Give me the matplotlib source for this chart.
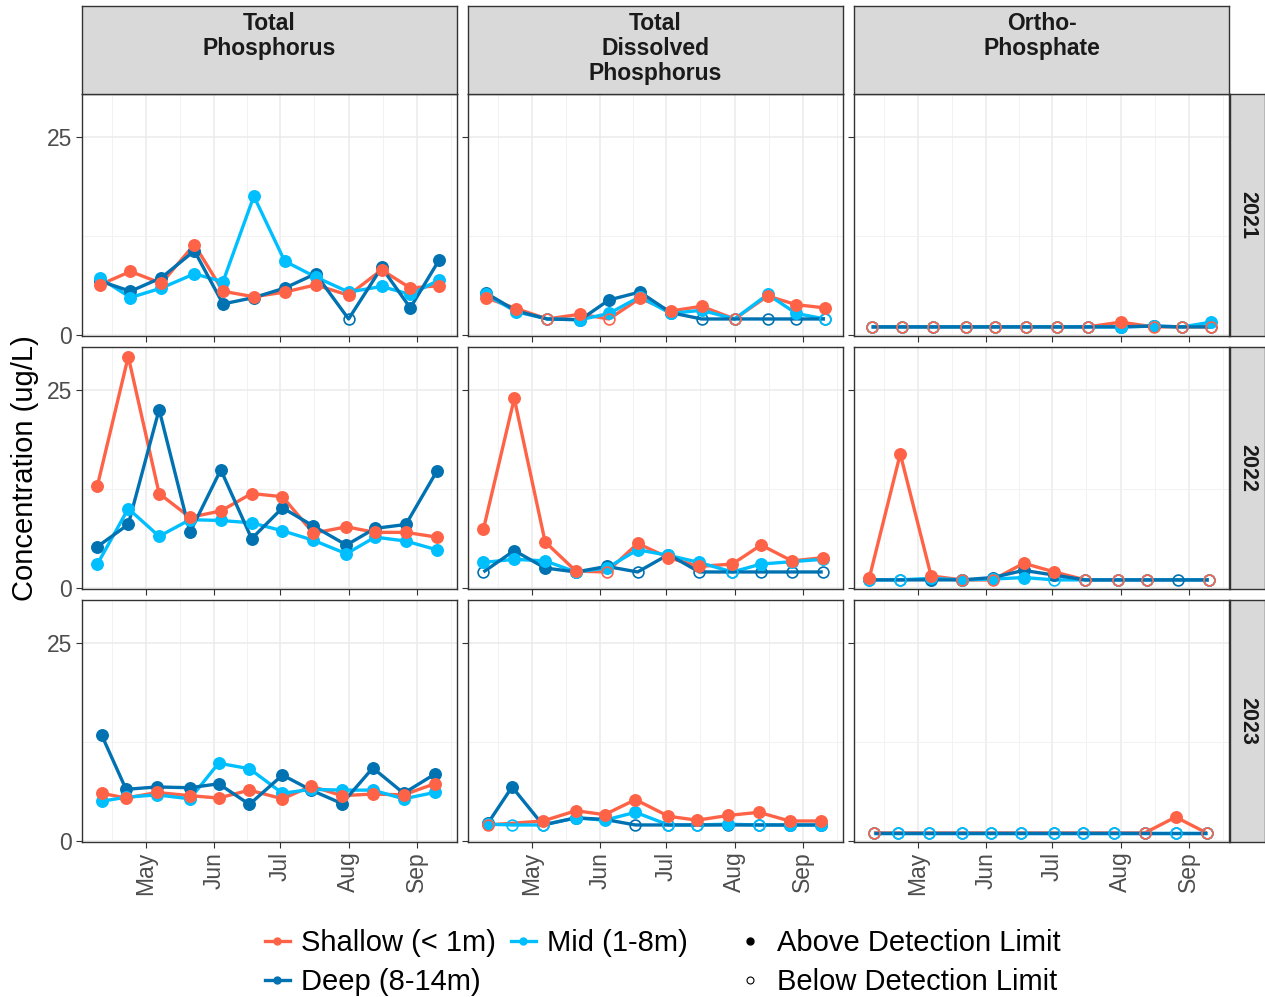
import matplotlib
matplotlib.use('Agg')
import matplotlib.pyplot as plt
from matplotlib.lines import Line2D

plt.rcParams['font.family'] = ['Liberation Sans', 'DejaVu Sans']

# facet labels, depth groups
params = ['Total\nPhosphorus', 'Total\nDissolved\nPhosphorus', 'Ortho-\nPhosphate']
years = ['2021', '2022', '2023']
depths = ['Shallow (< 1m)', 'Mid (1-8m)', 'Deep (8-14m)']
colors = ['#FF6347', '#00BFFF', '#0072B2']

# sampling dates as day of year
doy_2021 = [100, 114, 128, 143, 156, 170, 184, 198, 213, 228, 241, 254]
doy_2022 = [99, 113, 127, 141, 155, 169, 183, 197, 212, 225, 239, 253]
doy_2023 = [101, 112, 126, 141, 154, 168, 183, 196, 210, 224, 238, 252]

month_days = [121, 152, 182, 213, 244]
month_labels = ['May', 'Jun', 'Jul', 'Aug', 'Sep']

# concentrations (ug/L), None = not sampled
# *_bdl = indices of samples below the detection limit
tp21_sh = [6.3, 8.0, 6.5, 11.4, 5.5, 4.8, 5.4, 6.3, 5.0, 8.2, 5.9, 6.2]
tp21_mid = [7.2, 4.7, 5.9, 7.7, 6.7, 17.5, 9.3, 7.3, 5.4, 6.1, 5.1, 6.9]
tp21_dp = [6.8, 5.5, 7.2, 10.6, 3.9, 4.7, 5.9, 7.7, 2.0, 8.5, 3.4, 9.4]
tp21_sh_bdl, tp21_mid_bdl, tp21_dp_bdl = [], [], [8]

tdp21_sh = [4.7, 3.3, 2.0, 2.6, 2.0, 4.6, 3.0, 3.6, 2.0, 4.9, 3.8, 3.4]
tdp21_mid = [5.1, 2.9, 2.0, 1.9, 2.7, 4.8, 2.7, 3.1, 2.0, 5.1, 2.7, 2.0]
tdp21_dp = [5.3, 3.0, 2.0, 1.9, 4.4, 5.4, 2.8, 2.0, 2.0, 2.0, 2.0, 2.0]
tdp21_sh_bdl, tdp21_mid_bdl, tdp21_dp_bdl = [2, 4, 8], [2, 8, 11], [2, 7, 8, 9, 10, 11]

op21_sh = [1.0, 1.0, 1.0, 1.0, 1.0, 1.0, 1.0, 1.0, 1.6, 1.0, 1.0, 1.0]
op21_mid = [1.0, 1.0, 1.0, 1.0, 1.0, 1.0, 1.0, 1.0, 1.0, 1.1, 1.0, 1.6]
op21_dp = [1.0, 1.0, 1.0, 1.0, 1.0, 1.0, 1.0, 1.0, 1.0, 1.1, 1.0, 1.0]
op21_sh_bdl = [0, 1, 2, 3, 4, 5, 6, 7, 9, 10, 11]
op21_mid_bdl = [0, 1, 2, 3, 4, 5, 6, 7, 10]
op21_dp_bdl = [0, 1, 2, 3, 4, 5, 6, 7, 10, 11]

tp22_sh = [12.9, 29.2, 11.9, 8.9, 9.7, 11.9, 11.5, 6.9, 7.7, 7.0, 7.0, 6.4]
tp22_mid = [3.0, 10.0, 6.5, 8.6, 8.5, 8.2, 7.2, 6.0, 4.3, 6.4, 5.9, 4.8]
tp22_dp = [5.2, 8.0, 22.5, 7.0, 14.9, 6.2, 10.1, 7.8, 5.4, 7.5, 8.0, 14.7]
tp22_sh_bdl, tp22_mid_bdl, tp22_dp_bdl = [], [], []

tdp22_sh = [7.4, 23.9, 5.8, 2.1, 2.0, 5.6, 3.8, 2.7, 3.0, 5.4, 3.4, 3.8]
tdp22_mid = [3.2, 3.6, 3.4, 2.0, 2.5, 4.8, 4.1, 3.2, 2.0, 3.0, 3.3, 3.6]
tdp22_dp = [2.0, 4.7, 2.5, 2.0, 2.7, 2.0, 4.2, 2.0, 2.0, 2.0, 2.0, 2.0]
tdp22_sh_bdl, tdp22_mid_bdl, tdp22_dp_bdl = [4], [8], [0, 5, 7, 8, 9, 10, 11]

op22_sh = [1.3, 16.9, 1.5, 1.0, 1.0, 3.1, 2.0, 1.0, 1.0, 1.0, None, 1.0]
op22_mid = [1.0, 1.0, 1.2, 1.0, 1.1, 1.3, 1.0, 1.0, 1.0, 1.0, None, 1.0]
op22_dp = [1.0, 1.0, 1.0, 1.0, 1.3, 2.2, 1.6, 1.0, 1.0, 1.0, 1.0, 1.0]
op22_sh_bdl = [3, 4, 7, 8, 9, 11]
op22_mid_bdl = [0, 1, 6, 7, 8, 9, 11]
op22_dp_bdl = [0, 1, 7, 8, 9, 10, 11]

tp23_sh = [6.0, 5.4, 6.1, 5.7, 5.4, 6.4, 5.3, 6.9, 5.7, 5.9, 5.8, 7.2]
tp23_mid = [5.0, 5.5, 5.8, 5.3, 9.8, 9.1, 6.0, 6.5, 6.4, 6.4, 5.3, 6.1]
tp23_dp = [13.3, 6.5, 6.8, 6.7, 7.2, 4.6, 8.3, 6.4, 4.7, 9.2, 6.0, 8.4]
tp23_sh_bdl, tp23_mid_bdl, tp23_dp_bdl = [], [], []

tdp23_sh = [2.0, None, 2.5, 3.8, 3.3, 5.2, 3.1, 2.6, 3.2, 3.6, 2.5, 2.5]
tdp23_mid = [2.1, 2.0, 2.0, 2.9, 2.6, 3.6, 2.0, 2.0, 2.1, 2.0, 2.0, 2.0]
tdp23_dp = [2.2, 6.8, 2.0, 2.9, 2.7, 2.0, 2.0, 2.0, 2.0, 2.0, 2.0, 2.0]
tdp23_sh_bdl, tdp23_mid_bdl, tdp23_dp_bdl = [0], [1, 2, 6, 7, 9], [2, 5, 6, 7, 8, 9]

op23_sh = [1.0, None, None, None, None, None, None, None, None, 1.0, 3.0, 1.0]
op23_mid = [1.0] * 12
op23_dp = [1.0] * 12
op23_sh_bdl = [0, 9, 11]
op23_mid_bdl = list(range(12))
op23_dp_bdl = list(range(12))

panels = {
    (0, 0): (doy_2021, [tp21_sh, tp21_mid, tp21_dp], [tp21_sh_bdl, tp21_mid_bdl, tp21_dp_bdl]),
    (0, 1): (doy_2021, [tdp21_sh, tdp21_mid, tdp21_dp], [tdp21_sh_bdl, tdp21_mid_bdl, tdp21_dp_bdl]),
    (0, 2): (doy_2021, [op21_sh, op21_mid, op21_dp], [op21_sh_bdl, op21_mid_bdl, op21_dp_bdl]),
    (1, 0): (doy_2022, [tp22_sh, tp22_mid, tp22_dp], [tp22_sh_bdl, tp22_mid_bdl, tp22_dp_bdl]),
    (1, 1): (doy_2022, [tdp22_sh, tdp22_mid, tdp22_dp], [tdp22_sh_bdl, tdp22_mid_bdl, tdp22_dp_bdl]),
    (1, 2): (doy_2022, [op22_sh, op22_mid, op22_dp], [op22_sh_bdl, op22_mid_bdl, op22_dp_bdl]),
    (2, 0): (doy_2023, [tp23_sh, tp23_mid, tp23_dp], [tp23_sh_bdl, tp23_mid_bdl, tp23_dp_bdl]),
    (2, 1): (doy_2023, [tdp23_sh, tdp23_mid, tdp23_dp], [tdp23_sh_bdl, tdp23_mid_bdl, tdp23_dp_bdl]),
    (2, 2): (doy_2023, [op23_sh, op23_mid, op23_dp], [op23_sh_bdl, op23_mid_bdl, op23_dp_bdl]),
}

W, H = 1265, 997
fig = plt.figure(figsize=(W / 100, H / 100), dpi=100)


def px_box(x0, y0, x1, y1):
    return [x0 / W, 1 - y1 / H, (x1 - x0) / W, (y1 - y0) / H]


col_x = [(82, 457), (468, 843), (854, 1229)]
row_y = [(94, 336), (347, 589), (600, 842)]
border = '#333333'

for (r, c), (days, vals, bdl) in panels.items():
    ax = fig.add_axes(px_box(col_x[c][0], row_y[r][0], col_x[c][1], row_y[r][1]))
    ax.set_xlim(92, 262.2)
    ax.set_ylim(-0.15, 30.4)
    ax.set_xticks(month_days)
    ax.set_xticks([105.5, 136.5, 167, 197.5, 228.5, 259.5], minor=True)
    ax.set_yticks([0, 25])
    ax.set_yticks([12.5], minor=True)
    ax.grid(which='major', color='#EBEBEB', lw=1.1, zorder=0)
    ax.grid(which='minor', color='#F2F2F2', lw=0.7, zorder=0)
    ax.set_axisbelow(True)
    for s in ax.spines.values():
        s.set_color(border)
        s.set_linewidth(1.0)
    ax.tick_params(which='minor', length=0)
    ax.tick_params(which='major', length=4, width=0.8, color=border,
                   labelcolor='#4D4D4D', labelsize=16.5, pad=3)
    if r == 2:
        ax.set_xticklabels(month_labels, rotation=90)
    else:
        ax.set_xticklabels([])
    if c == 0:
        ax.set_yticklabels(['0', '25'])
    else:
        ax.set_yticklabels([])

    # lines: Shallow, Mid, Deep (deep on top)
    for k in range(3):
        pts = [(d, v) for d, v in zip(days, vals[k]) if v is not None]
        ax.plot([p[0] for p in pts], [p[1] for p in pts], color=colors[k],
                lw=2.4, solid_capstyle='butt', zorder=2)
    # points: Deep, Mid, Shallow
    for k in [2, 1, 0]:
        for i, (d, v) in enumerate(zip(days, vals[k])):
            if v is None:
                continue
            if i in bdl[k]:
                ax.plot(d, v, 'o', ms=7.8, mfc='none', mec=colors[k], mew=1.2, zorder=3)
            else:
                ax.plot(d, v, 'o', ms=8.3, color=colors[k], zorder=3)

# top strips
for c, label in enumerate(params):
    sx = fig.add_axes(px_box(col_x[c][0], 6, col_x[c][1], 94))
    sx.set_facecolor('#D9D9D9')
    sx.set_xticks([])
    sx.set_yticks([])
    for s in sx.spines.values():
        s.set_color(border)
        s.set_linewidth(1.0)
    sx.text(0.5, 0.93, label, ha='center', va='top', fontsize=16.5,
            fontweight='bold', color='#1A1A1A', linespacing=1.12,
            transform=sx.transAxes)

# right strips
for r, label in enumerate(years):
    sx = fig.add_axes(px_box(1230, row_y[r][0], 1265, row_y[r][1]))
    sx.set_facecolor('#D9D9D9')
    sx.set_xticks([])
    sx.set_yticks([])
    for s in sx.spines.values():
        s.set_color(border)
        s.set_linewidth(1.0)
    sx.text(0.5, 0.5, label, ha='center', va='center', rotation=-90,
            fontsize=15.5, fontweight='bold', color='#1A1A1A',
            transform=sx.transAxes)

fig.text(25 / W, 1 - 468 / H, 'Concentration (ug/L)', rotation=90,
         ha='center', va='center', fontsize=21)

# legends
depth_handles = [Line2D([], [], color=colors[k], lw=2.4, marker='o', ms=5)
                 for k in [0, 2, 1]]
fig.legend(depth_handles, [depths[0], depths[2], depths[1]], ncol=2,
           loc='upper left', bbox_to_anchor=(265 / W, 1 - 929 / H),
           frameon=False, fontsize=21, handlelength=0.85, handletextpad=0.4,
           columnspacing=0.5, labelspacing=0.38, borderaxespad=0, borderpad=0)

dl_handles = [Line2D([], [], ls='none', marker='o', ms=5, color='black'),
              Line2D([], [], ls='none', marker='o', ms=5, mfc='none',
                     mec='black', mew=0.8)]
fig.legend(dl_handles, ['Above Detection Limit', 'Below Detection Limit'],
           loc='upper left', bbox_to_anchor=(735 / W, 1 - 929 / H),
           frameon=False, fontsize=21, handlelength=1.0, handletextpad=0.45,
           labelspacing=0.38, borderaxespad=0, borderpad=0)

fig.savefig('out.png', dpi=100, facecolor='white')
